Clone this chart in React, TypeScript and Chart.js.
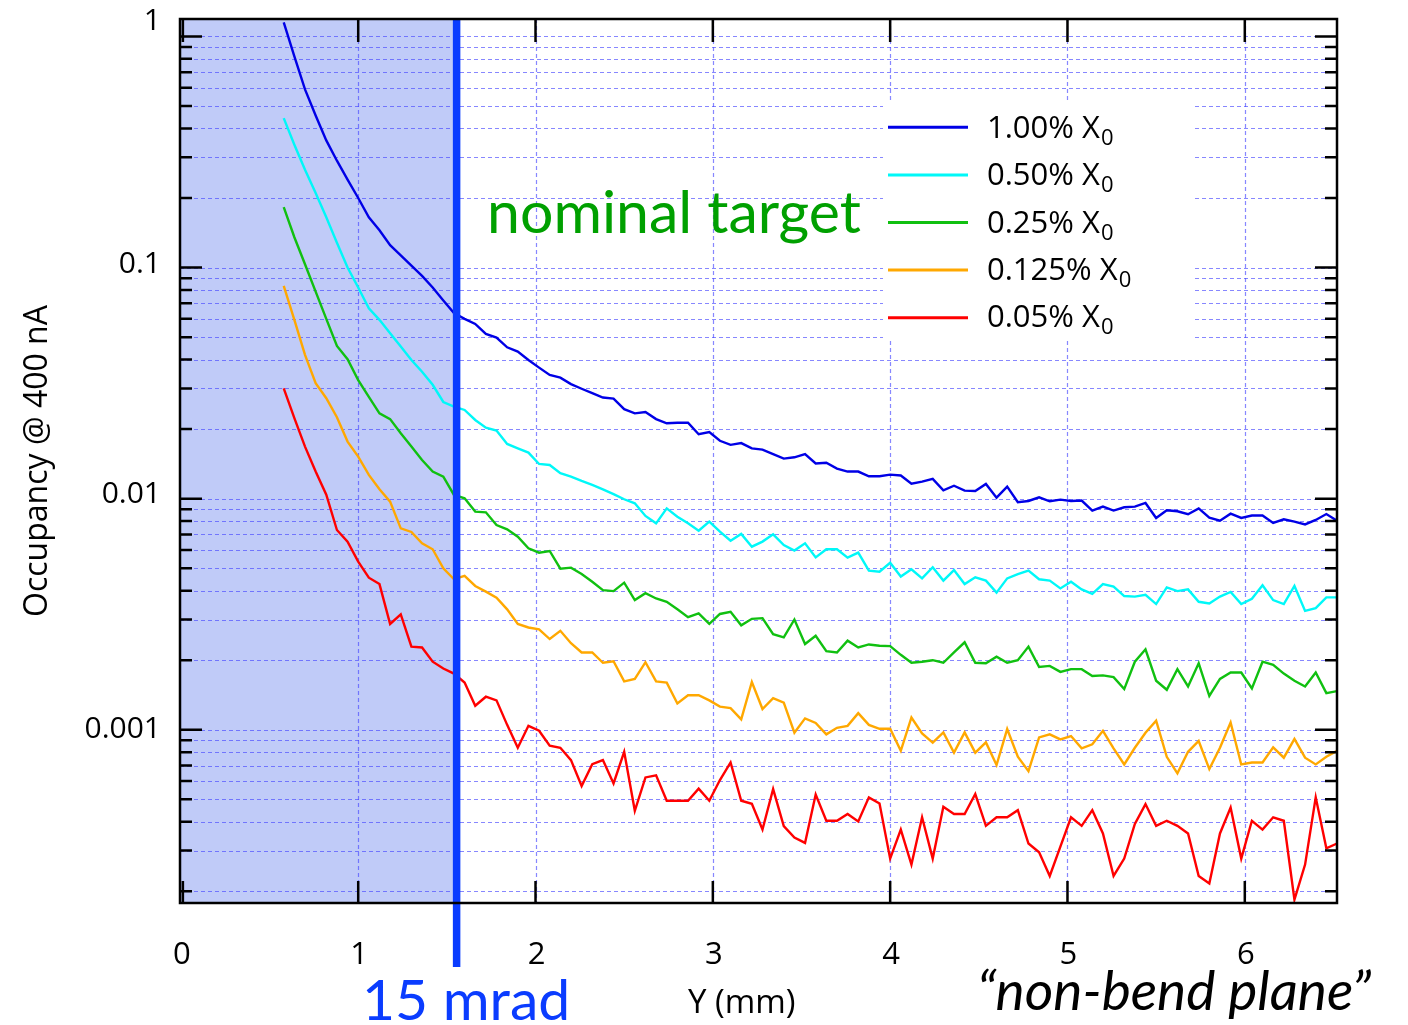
import { useEffect, useRef } from "react";
import { Chart, registerables } from "chart.js";

Chart.register(...registerables);

// Y position (mm) of each sample
const X_MM = [
  0.58, 0.64, 0.7, 0.76, 0.82, 0.88, 0.94, 1.0, 1.06, 1.12,
  1.18, 1.24, 1.3, 1.36, 1.42, 1.48, 1.54, 1.6, 1.66, 1.72,
  1.78, 1.84, 1.9, 1.96, 2.02, 2.08, 2.14, 2.2, 2.26, 2.32,
  2.38, 2.44, 2.5, 2.56, 2.62, 2.68, 2.74, 2.8, 2.86, 2.92,
  2.98, 3.04, 3.1, 3.16, 3.22, 3.28, 3.34, 3.4, 3.46, 3.52,
  3.58, 3.64, 3.7, 3.76, 3.82, 3.88, 3.94, 4.0, 4.06, 4.12,
  4.18, 4.24, 4.3, 4.36, 4.42, 4.48, 4.54, 4.6, 4.66, 4.72,
  4.78, 4.84, 4.9, 4.96, 5.02, 5.08, 5.14, 5.2, 5.26, 5.32,
  5.38, 5.44, 5.5, 5.56, 5.62, 5.68, 5.74, 5.8, 5.86, 5.92,
  5.98, 6.04, 6.1, 6.16, 6.22, 6.28, 6.34, 6.4, 6.46, 6.52,
];

const OCC_100 = [
  1.15, 0.82, 0.59, 0.455, 0.355, 0.29, 0.24, 0.2, 0.165, 0.145,
  0.125, 0.113, 0.102, 0.092, 0.082, 0.072, 0.0635, 0.06, 0.057, 0.0516,
  0.0498, 0.0452, 0.0433, 0.0398, 0.0369, 0.0343, 0.0334, 0.0313, 0.0299, 0.0286,
  0.0274, 0.0271, 0.0244, 0.0234, 0.0237, 0.0221, 0.0212, 0.0213, 0.0213, 0.019,
  0.0194, 0.0178, 0.0171, 0.0174, 0.0165, 0.0163, 0.0156, 0.0149, 0.0151, 0.0156,
  0.0142, 0.0143, 0.0135, 0.0131, 0.0131, 0.0125, 0.0125, 0.0127, 0.0126, 0.0116,
  0.01185, 0.01217, 0.01087, 0.01138, 0.01083, 0.0108, 0.01158, 0.0101, 0.01127, 0.00965,
  0.00977, 0.01014, 0.00974, 0.0099, 0.00977, 0.00981, 0.00888, 0.00924, 0.00888, 0.00918,
  0.00924, 0.00958, 0.00825, 0.00891, 0.00882, 0.00856, 0.00908, 0.00828, 0.00803, 0.00861,
  0.00825, 0.00845, 0.00845, 0.00785, 0.00814, 0.00796, 0.00774, 0.00809, 0.00858, 0.00803,
];

const OCC_050 = [
  0.443, 0.34, 0.265, 0.21, 0.165, 0.128, 0.1, 0.082, 0.0667, 0.0594,
  0.052, 0.0455, 0.0398, 0.0354, 0.0311, 0.0262, 0.025, 0.0242, 0.0219, 0.0203,
  0.0197, 0.01725, 0.01652, 0.01583, 0.01413, 0.01399, 0.01288, 0.01246, 0.01193, 0.01146,
  0.01098, 0.01047, 0.00994, 0.00955, 0.00842, 0.00782, 0.00908, 0.00836, 0.00782, 0.00727,
  0.00796, 0.0072, 0.00658, 0.00704, 0.0062, 0.00652, 0.00701, 0.0063, 0.00596, 0.00641,
  0.00557, 0.00604, 0.00604, 0.00556, 0.00584, 0.00488, 0.00483, 0.00528, 0.0046, 0.00495,
  0.00452, 0.00505, 0.00442, 0.00491, 0.00427, 0.00457, 0.00442, 0.00392, 0.00452, 0.00472,
  0.00488, 0.00448, 0.00442, 0.00409, 0.00437, 0.00405, 0.00387, 0.00427, 0.00416, 0.00379,
  0.00377, 0.00384, 0.0035, 0.00413, 0.00398, 0.00405, 0.00358, 0.00352, 0.00377, 0.00395,
  0.0035, 0.00369, 0.00422, 0.00364, 0.0035, 0.00419, 0.00327, 0.00336, 0.00374, 0.00374,
];

const OCC_025 = [
  0.1826, 0.1353, 0.1034, 0.0787, 0.06, 0.0458, 0.0401, 0.0326, 0.0276, 0.0234,
  0.0221, 0.0192, 0.0168, 0.0147, 0.0131, 0.01246, 0.01038, 0.01004, 0.00879, 0.00873,
  0.00769, 0.00737, 0.00685, 0.0061, 0.00584, 0.00594, 0.00498, 0.00503, 0.00472, 0.00437,
  0.00402, 0.00398, 0.00433, 0.00364, 0.0039, 0.0037, 0.00358, 0.00332, 0.00307, 0.00319,
  0.00287, 0.00317, 0.00324, 0.00283, 0.00302, 0.00304, 0.00259, 0.00251, 0.003, 0.00235,
  0.00255, 0.00219, 0.00216, 0.00243, 0.00227, 0.00234, 0.00231, 0.0023, 0.00211, 0.00195,
  0.00197, 0.002, 0.00195, 0.00216, 0.00239, 0.00195, 0.00194, 0.00207, 0.00195, 0.002,
  0.00229, 0.00187, 0.00189, 0.00178, 0.00183, 0.00183, 0.00171, 0.00172, 0.00169, 0.0015,
  0.00197, 0.00223, 0.00163, 0.00149, 0.00183, 0.00154, 0.00194, 0.0014, 0.00166, 0.00177,
  0.00177, 0.00151, 0.00197, 0.00191, 0.00175, 0.00163, 0.00154, 0.00177, 0.00144, 0.00147,
];

const OCC_0125 = [
  0.0833, 0.0594, 0.0419, 0.0316, 0.0272, 0.0225, 0.01766, 0.01521, 0.01267, 0.01098,
  0.00971, 0.00744, 0.00718, 0.00641, 0.00604, 0.005, 0.00448, 0.00463, 0.00419, 0.00396,
  0.00373, 0.00332, 0.00287, 0.00277, 0.00272, 0.00247, 0.00268, 0.00237, 0.00216, 0.00216,
  0.00195, 0.00198, 0.00162, 0.00166, 0.00196, 0.00162, 0.0016, 0.0013, 0.00141, 0.00141,
  0.00134, 0.00126, 0.00124, 0.00111, 0.00161, 0.00123, 0.00137, 0.00131, 0.000971, 0.00112,
  0.00107, 0.000955, 0.00102, 0.00104, 0.00118, 0.00105, 0.00101, 0.00101, 0.000811, 0.00113,
  0.000964, 0.000879, 0.000974, 0.000796, 0.000974, 0.000796, 0.000882, 0.000704, 0.001007, 0.000764,
  0.000662, 0.000927, 0.000955, 0.000908, 0.000939, 0.000831, 0.000865, 0.00099, 0.000831, 0.000708,
  0.000836, 0.000971, 0.001094, 0.000764, 0.000648, 0.000803, 0.000894, 0.000676, 0.000836, 0.001076,
  0.000708, 0.000722, 0.000722, 0.000839, 0.000757, 0.000912, 0.000757, 0.000708, 0.000764, 0.000811,
];

const OCC_005 = [
  0.03, 0.0223, 0.0168, 0.0131, 0.0104, 0.00732, 0.00652, 0.00534, 0.00455, 0.00427,
  0.00287, 0.00316, 0.00229, 0.00227, 0.00197, 0.00184, 0.00175, 0.0016, 0.00127, 0.00139,
  0.00134, 0.00105, 0.000836, 0.00104, 0.00099, 0.000853, 0.000836, 0.000739, 0.000571, 0.00071,
  0.000739, 0.000586, 0.000803, 0.000446, 0.000622, 0.000635, 0.000493, 0.000493, 0.000493, 0.000556,
  0.000493, 0.000606, 0.000722, 0.000493, 0.000478, 0.00037, 0.000554, 0.000383, 0.000342, 0.000324,
  0.000525, 0.000404, 0.000404, 0.000432, 0.000401, 0.00051, 0.00048, 0.000277, 0.00037, 0.000261,
  0.000418, 0.000277, 0.000464, 0.000432, 0.000432, 0.000527, 0.000384, 0.000418, 0.000418, 0.000449,
  0.000322, 0.000295, 0.000233, 0.000312, 0.000418, 0.000384, 0.000449, 0.000356, 0.000233, 0.000277,
  0.000391, 0.000477, 0.000384, 0.000404, 0.000384, 0.000356, 0.000233, 0.000216, 0.000356, 0.000461,
  0.000277, 0.000404, 0.00037, 0.000418, 0.000404, 0.000184, 0.000261, 0.00051, 0.000307, 0.000322,
];

const SERIES_VALUES = [OCC_100, OCC_050, OCC_025, OCC_0125, OCC_005];
const SERIES_LABELS = ["1.00%", "0.50%", "0.25%", "0.125%", "0.05%"];
const SERIES_COLORS = ["#0000e6", "#00f8f8", "#10c010", "#ffa800", "#ff0000"];

const X_TICKS = [0, 1, 2, 3, 4, 5, 6];
const Y_MAJOR = [1, 0.1, 0.01, 0.001];
const Y_LABELS = ["1", "0.1", "0.01", "0.001"];
const Y_LABEL_SHIFT = [-15, -3, -4, 0];
const CUT_MM = 1.555;

const X_MIN = -0.005;
const X_MAX = 6.52;
const Y_MIN = 1.78e-4;
const Y_MAX = 1.19;

function gridValues(): number[] {
  const out: number[] = [];
  for (let k = -4; k <= 0; k++) {
    for (let m = 1; m <= 9; m++) {
      const v = m * Math.pow(10, k);
      if (v > Y_MIN && v < Y_MAX) out.push(v);
    }
  }
  return out;
}

const decor = {
  id: "decor",
  beforeDatasetsDraw(chart: any) {
    const { ctx, chartArea: ca, scales } = chart;
    const xs = scales.x;
    const ys = scales.y;
    const xc = xs.getPixelForValue(CUT_MM);
    ctx.save();
    ctx.fillStyle = "#c0cbf8";
    ctx.fillRect(ca.left, ca.top, xc - ca.left, ca.bottom - ca.top);

    ctx.setLineDash([4, 3]);
    ctx.strokeStyle = "rgba(70,70,255,0.65)";
    ctx.lineWidth = 1.2;
    for (const v of gridValues()) {
      const py = Math.round(ys.getPixelForValue(v)) + 0.5;
      ctx.beginPath();
      ctx.moveTo(ca.left, py);
      ctx.lineTo(ca.right, py);
      ctx.stroke();
    }
    for (const t of X_TICKS) {
      if (t === 0) continue;
      const px = Math.round(xs.getPixelForValue(t)) + 0.5;
      ctx.beginPath();
      ctx.moveTo(px, ca.top);
      ctx.lineTo(px, ca.bottom);
      ctx.stroke();
    }
    ctx.setLineDash([]);
    // legend background
    ctx.fillStyle = "#ffffff";
    ctx.fillRect(883, 100, 310, 240);
    ctx.restore();
  },
  afterDatasetsDraw(chart: any) {
    const { ctx, chartArea: ca, scales } = chart;
    const xs = scales.x;
    const ys = scales.y;
    const xc = xs.getPixelForValue(CUT_MM);
    ctx.save();

    // 15 mrad line
    ctx.strokeStyle = "#0a3cff";
    ctx.lineWidth = 7.5;
    ctx.beginPath();
    ctx.moveTo(xc, ca.top);
    ctx.lineTo(xc, 967);
    ctx.stroke();

    // frame
    ctx.strokeStyle = "#000";
    ctx.lineWidth = 2.5;
    ctx.strokeRect(ca.left, ca.top, ca.right - ca.left, ca.bottom - ca.top);

    // y ticks
    for (const v of gridValues()) {
      const py = ys.getPixelForValue(v);
      const major = Y_MAJOR.some((m) => Math.abs(m - v) / m < 1e-6);
      const len = major ? 22 : 12;
      ctx.beginPath();
      ctx.moveTo(ca.left, py);
      ctx.lineTo(ca.left + len, py);
      ctx.moveTo(ca.right, py);
      ctx.lineTo(ca.right - len, py);
      ctx.stroke();
    }
    // x ticks
    for (const t of X_TICKS) {
      const px = xs.getPixelForValue(t) + (t === 0 ? 2 : 0);
      ctx.beginPath();
      ctx.moveTo(px, ca.top);
      ctx.lineTo(px, ca.top + 23);
      ctx.moveTo(px, ca.bottom);
      ctx.lineTo(px, ca.bottom - 22);
      ctx.stroke();
    }

    // tick labels
    ctx.fillStyle = "#000";
    ctx.font = "30px 'Open Sans'";
    ctx.textAlign = "right";
    ctx.textBaseline = "middle";
    Y_MAJOR.forEach((v, i) => {
      ctx.fillText(Y_LABELS[i], 161, ys.getPixelForValue(v) + Y_LABEL_SHIFT[i]);
    });
    ctx.textAlign = "center";
    ctx.font = "31px 'Open Sans'";
    X_TICKS.forEach((t) => {
      ctx.fillText(String(t), xs.getPixelForValue(t) + 1, 955);
    });

    // axis titles
    ctx.textBaseline = "alphabetic";
    ctx.font = "33px 'Open Sans'";
    ctx.textAlign = "left";
    ctx.fillText("Y (mm)", 688, 1013);
    ctx.save();
    ctx.translate(47, 461);
    ctx.rotate(-Math.PI / 2);
    ctx.textAlign = "center";
    ctx.font = "32px 'Open Sans'";
    ctx.fillText("Occupancy @ 400 nA", 0, 0);
    ctx.restore();

    // legend
    SERIES_LABELS.forEach((lab, j) => {
      const ly = 127.3 + 47.6 * j;
      ctx.strokeStyle = SERIES_COLORS[j];
      ctx.lineWidth = 3;
      ctx.beginPath();
      ctx.moveTo(888, ly);
      ctx.lineTo(968, ly);
      ctx.stroke();
      const by = 138 + 47.3 * j;
      ctx.fillStyle = "#000";
      ctx.font = "31px 'Open Sans'";
      ctx.textAlign = "left";
      const main = lab + " X";
      ctx.fillText(main, 987, by);
      const w = ctx.measureText(main).width;
      ctx.font = "22px 'Open Sans'";
      ctx.fillText("0", 987 + w + 1, by + 7);
    });

    // annotations
    ctx.textAlign = "left";
    ctx.fillStyle = "#00a000";
    ctx.font = "59px Lato";
    ctx.fillText("nominal target", 487, 233);
    ctx.fillStyle = "#0a3cff";
    ctx.font = "57px Lato";
    ctx.fillText("15 mrad", 362, 1020);
    ctx.fillStyle = "#000";
    ctx.font = "italic 55px Lato";
    ctx.fillText("\u201cnon-bend plane\u201d", 977, 1010);

    ctx.restore();
  },
};

export default function App() {
  const ref = useRef<HTMLCanvasElement | null>(null);
  useEffect(() => {
    document.body.style.margin = "0";
    const canvas = ref.current;
    if (!canvas) return;
    const chart = new Chart(canvas, {
      type: "line",
      data: {
        datasets: SERIES_VALUES.map((vals, j) => ({
          label: SERIES_LABELS[j] + " X0",
          data: X_MM.map((x, i) => ({ x, y: vals[i] })),
          borderColor: SERIES_COLORS[j],
          backgroundColor: SERIES_COLORS[j],
          borderWidth: 2.4,
          pointRadius: 0,
          tension: 0,
          fill: false,
        })),
      },
      options: {
        responsive: false,
        animation: false,
        layout: { padding: { left: 180, top: 19, right: 71, bottom: 122 } },
        scales: {
          x: { type: "linear", min: X_MIN, max: X_MAX, display: false },
          y: { type: "logarithmic", min: Y_MIN, max: Y_MAX, display: false },
        },
        plugins: { legend: { display: false }, tooltip: { enabled: false } },
      },
      plugins: [decor],
    } as any);
    const fonts = (document as any).fonts;
    if (fonts && fonts.load) {
      Promise.all([
        fonts.load("30px 'Open Sans'"),
        fonts.load("59px Lato"),
        fonts.load("italic 55px Lato"),
      ])
        .then(() => chart.update())
        .catch(() => {});
    }
    return () => chart.destroy();
  }, []);
  return (
    <canvas
      ref={ref}
      width={1408}
      height={1025}
      style={{ display: "block", width: 1408, height: 1025 }}
    />
  );
}
